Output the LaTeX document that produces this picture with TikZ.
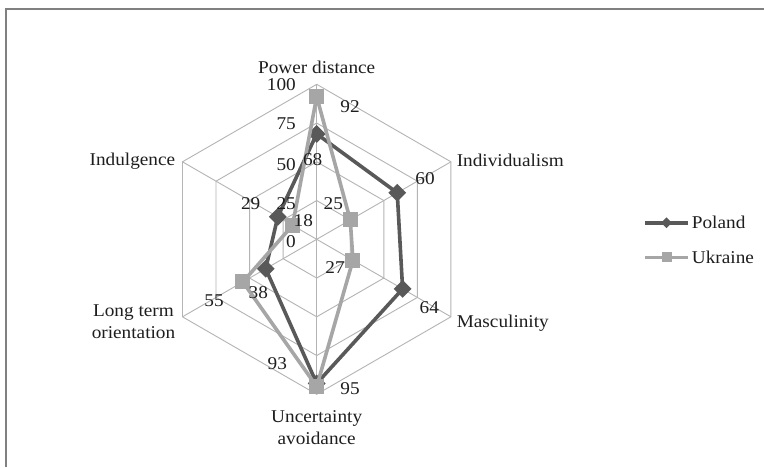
\documentclass[tikz,border=0pt]{standalone}
\usepackage{fontspec}
\setmainfont{Liberation Serif}[FakeStretch=1.07]
\usetikzlibrary{shapes.geometric}
\definecolor{polc}{HTML}{595959}
\definecolor{ukrc}{HTML}{A6A6A6}
\definecolor{gridc}{HTML}{B4B4B4}
\definecolor{framec}{HTML}{808080}
\definecolor{txtc}{HTML}{1E1E1E}
\begin{document}
\begin{tikzpicture}[x=1pt,y=-1pt,
  lbl/.style={font=\fontsize{18}{22}\selectfont, inner sep=0pt, text=txtc},
  gridline/.style={draw=gridc, line width=0.9pt},
  polline/.style={draw=polc, line width=3.6pt, line join=round},
  ukrline/.style={draw=ukrc, line width=3.6pt, line join=round},
  polmark/.style={shape=diamond, fill=polc, inner sep=0pt, minimum width=18pt, minimum height=18pt},
  ukrmark/.style={shape=rectangle, fill=ukrc, inner sep=0pt, minimum size=15pt},
  polmarksmall/.style={shape=diamond, fill=polc, inner sep=0pt, minimum width=11pt, minimum height=11pt},
  ukrmarksmall/.style={shape=rectangle, fill=ukrc, inner sep=0pt, minimum size=10pt},
  ]
\useasboundingbox (0,0) rectangle (764,467);
\fill[white] (0,0) rectangle (764,467);
% frame
\coordinate (fbl) at (5.7,467);
\coordinate (ftl) at (5.7,8.7);
\coordinate (ftr) at (764,8.7);
\draw[framec, line width=2pt] (fbl) -- (ftl) -- (ftr);

\begin{scope}[shift={(316.7,239.3)}, yscale=-1]
  \coordinate (c) at (0,0);
  % grid
  \foreach \r in {0.25,0.5,0.75,1} {
    \draw[gridline] (90:{\r*155}) -- (30:{\r*155}) -- (-30:{\r*155}) -- (-90:{\r*155}) -- (-150:{\r*155}) -- (150:{\r*155}) -- cycle;
  }
  \foreach \a in {90,30,-30,-90,-150,150} {
    \coordinate (ax\a) at (\a:155);
    \draw[gridline] (c) -- (ax\a);
  }
  % Poland: 68, 60, 64, 93, 38, 29
  \coordinate (p1) at (90:{0.68*155});
  \coordinate (p2) at (30:{0.60*155});
  \coordinate (p3) at (-30:{0.64*155});
  \coordinate (p4) at (-90:{0.93*155});
  \coordinate (p5) at (-150:{0.38*155});
  \coordinate (p6) at (150:{0.29*155});
  % Ukraine: 92, 25, 27, 95, 55, 18
  \coordinate (u1) at (90:{0.92*155});
  \coordinate (u2) at (30:{0.25*155});
  \coordinate (u3) at (-30:{0.27*155});
  \coordinate (u4) at (-90:{0.95*155});
  \coordinate (u5) at (-150:{0.55*155});
  \coordinate (u6) at (150:{0.18*155});
\end{scope}

\draw[polline] (p1) -- (p2) -- (p3) -- (p4) -- (p5) -- (p6) -- cycle;
\foreach \i in {1,...,6} \node[polmark] (pm\i) at (p\i) {};
\draw[ukrline] (u1) -- (u2) -- (u3) -- (u4) -- (u5) -- (u6) -- cycle;
\foreach \i in {1,...,6} \node[ukrmark] (um\i) at (u\i) {};

% axis scale labels
\node[lbl, anchor=east] (s100) at (296,85) {100};
\node[lbl, anchor=east] (s75) at (296,124) {75};
\node[lbl, anchor=east] (s50) at (296,165) {50};
\node[lbl, anchor=east] (s25) at (296,203.3) {25};
\node[lbl, anchor=east] (s0) at (296,241.7) {0};

% data labels
\node[lbl] (l92) at (350,106.7) {92};
\node[lbl] (l68) at (312.7,159.3) {68};
\node[lbl] (l60) at (425,178.3) {60};
\node[lbl] (l25u) at (333.3,204) {25};
\node[lbl] (l29) at (250.7,203.3) {29};
\node[lbl] (l18) at (303.3,221) {18};
\node[lbl] (l27) at (335,267.3) {27};
\node[lbl] (l64) at (429.3,307.3) {64};
\node[lbl] (l95) at (350,388.3) {95};
\node[lbl] (l93) at (277.3,363.3) {93};
\node[lbl] (l38) at (258.3,292.7) {38};
\node[lbl] (l55) at (214,300.7) {55};

% category labels
\node[lbl] (tpd) at (316.7,67.3) {Power distance};
\node[lbl, anchor=west] (tidv) at (456.6,160) {Individualism};
\node[lbl, anchor=west] (tmas) at (456.6,323) {Masculinity};
\node[lbl, anchor=east] (tind) at (175.4,161) {Indulgence};
\node[lbl, anchor=east, align=center] (tlto) at (175.4,322) {Long term\\orientation};
\node[lbl, align=center] (tuai) at (316.7,428) {Uncertainty\\avoidance};

% legend
\coordinate (lp1) at (645,222.7);
\coordinate (lp2) at (688,222.7);
\draw[polline] (lp1) -- (lp2);
\node[polmarksmall] (lpm) at (666.5,222.7) {};
\node[lbl, anchor=west] (lpt) at (691.7,222.7) {Poland};
\coordinate (lu1) at (645,257.3);
\coordinate (lu2) at (688,257.3);
\draw[ukrline] (lu1) -- (lu2);
\node[ukrmarksmall] (lum) at (666.5,257.3) {};
\node[lbl, anchor=west] (lut) at (691.7,257.3) {Ukraine};
\end{tikzpicture}
\end{document}
